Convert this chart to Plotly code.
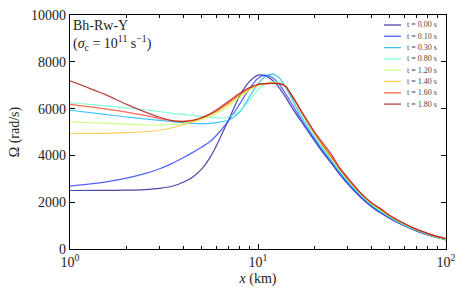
import plotly.graph_objects as go

X = [1, 1.5, 2, 2.5, 3, 3.5, 4, 4.5, 5, 5.5, 6, 7, 8, 9, 10, 11, 12, 13, 14, 15, 16, 17, 18,
     20, 22, 25, 27, 30, 35, 40, 45, 50, 60, 70, 80, 90, 100]

T000 = [2500, 2505, 2515, 2540, 2590, 2680, 2850, 3080, 3400, 3850, 4400, 5550, 6550, 7150, 7430, 7400, 7200, 6880, 6500, 6100, 5750, 5450, 5150,
        4620, 4150, 3580, 3220, 2780, 2220, 1820, 1540, 1320, 990, 760, 600, 480, 390]
T010 = [2690, 2850, 3030, 3220, 3430, 3660, 3900, 4130, 4350, 4560, 4850, 5500, 6200, 6850, 7300, 7430, 7320, 7030, 6650, 6250, 5870, 5530, 5220,
        4680, 4200, 3630, 3270, 2820, 2260, 1850, 1570, 1340, 1010, 775, 610, 490, 400]
T030 = [5930, 5760, 5640, 5560, 5500, 5440, 5400, 5370, 5360, 5370, 5400, 5500, 5850, 6500, 7050, 7380, 7470, 7300, 6920, 6480, 6050, 5660, 5330,
        4760, 4280, 3700, 3320, 2870, 2300, 1880, 1590, 1360, 1020, 790, 620, 500, 410]
T080 = [6250, 6130, 6030, 5950, 5870, 5800, 5750, 5710, 5670, 5630, 5600, 5640, 5900, 6350, 6800, 7050, 7140, 7120, 6970, 6620, 6220, 5820, 5460,
        4860, 4350, 3760, 3380, 2920, 2340, 1910, 1620, 1380, 1030, 795, 625, 500, 395]
T120 = [5430, 5380, 5340, 5310, 5300, 5320, 5370, 5440, 5530, 5640, 5780, 6120, 6480, 6780, 6980, 7080, 7110, 7090, 6950, 6600, 6220, 5840, 5500,
        4910, 4410, 3800, 3420, 2960, 2370, 1940, 1650, 1400, 1060, 815, 645, 515, 420]
T140 = [4935, 4945, 4970, 5010, 5075, 5180, 5310, 5440, 5570, 5710, 5860, 6210, 6560, 6830, 7000, 7080, 7100, 7080, 6950, 6610, 6240, 5870, 5530,
        4940, 4440, 3830, 3450, 2990, 2390, 1960, 1670, 1420, 1070, 825, 655, 525, 430]
T160 = [6180, 6000, 5850, 5710, 5570, 5490, 5470, 5510, 5610, 5740, 5900, 6260, 6610, 6870, 7020, 7070, 7080, 7070, 6950, 6600, 6230, 5870, 5540,
        4960, 4460, 3850, 3470, 3000, 2400, 1970, 1690, 1430, 1080, 830, 660, 530, 440]
T180 = [7190, 6640, 6180, 5860, 5630, 5480, 5440, 5490, 5610, 5760, 5940, 6320, 6660, 6900, 7040, 7070, 7080, 7070, 6960, 6620, 6260, 5900, 5580,
        5000, 4560, 3950, 3500, 3050, 2420, 1990, 1720, 1440, 1090, 840, 670, 540, 450]

SERIES = [T000, T010, T030, T080, T120, T140, T160, T180]
LABELS = ["t = 0.00 s", "t = 0.10 s", "t = 0.30 s", "t = 0.80 s",
          "t = 1.20 s", "t = 1.40 s", "t = 1.60 s", "t = 1.80 s"]
COLORS = ["rgba(40,40,150,0.85)", "rgba(40,60,255,0.8)", "rgba(0,175,255,0.75)",
          "rgba(90,255,205,0.75)", "rgba(195,255,90,0.75)", "rgba(255,195,40,0.8)",
          "rgba(255,70,40,0.8)", "rgba(165,25,25,0.8)"]

XTICKS = [1, 10, 100]
XTICKTEXT = ["10<sup>0</sup>", "10<sup>1</sup>", "10<sup>2</sup>"]
XMINOR = [2, 3, 4, 5, 6, 7, 8, 9, 20, 30, 40, 50, 60, 70, 80, 90]

FONT = "Liberation Serif, serif"
TXT = "#222"

fig = go.Figure()
for vals, lab, col in zip(SERIES, LABELS, COLORS):
    fig.add_trace(go.Scatter(x=X, y=vals, mode="lines", name=lab,
                             line=dict(color=col, width=1.2, shape="spline", smoothing=0.8),
                             showlegend=False))

# compact legend, placed in the upper-right corner of the plot area
L, R, TOP, BOT = 70, 446, 15, 249
W, H = R - L, BOT - TOP
shapes = []
annotations = []
for i, (lab, col) in enumerate(zip(LABELS, COLORS)):
    py = 25 + 11.3 * i
    yp = (BOT - py) / H
    shapes.append(dict(type="line", xref="paper", yref="paper",
                       x0=(384 - L) / W, x1=(401 - L) / W, y0=yp, y1=yp,
                       line=dict(color=col, width=1.3)))
    annotations.append(dict(xref="paper", yref="paper", x=(405 - L) / W, y=yp,
                            xanchor="left", yanchor="middle", showarrow=False,
                            text=lab, font=dict(family=FONT, size=8, color="#444")))

annotations.append(dict(xref="paper", yref="paper", x=(71 - L) / W, y=1 - 1 / H,
                        xanchor="left", yanchor="top", align="left", showarrow=False,
                        text="Bh-Rw-Y<br>(<i>σ</i><sub>c</sub> = 10<sup>11</sup> s<sup>−1</sup>)",
                        font=dict(family=FONT, size=14, color=TXT)))

fig.update_layout(
    width=469, height=293,
    margin=dict(l=L, r=469 - R, t=TOP, b=293 - BOT, autoexpand=False),
    paper_bgcolor="white", plot_bgcolor="white",
    font=dict(family=FONT, size=14, color=TXT),
    shapes=shapes, annotations=annotations,
)
fig.update_xaxes(type="log", range=[0, 2], tickvals=XTICKS, ticktext=XTICKTEXT,
                 ticks="inside", ticklen=5, tickwidth=1, tickcolor="black",
                 tickfont=dict(family=FONT, size=14, color=TXT),
                 ticklabeloverflow="allow", automargin=False,
                 showline=True, linecolor="black", linewidth=1.3, mirror="allticks",
                 showgrid=False, zeroline=False,
                 minor=dict(tickvals=XMINOR, ticks="inside", ticklen=3, tickwidth=1,
                            tickcolor="black", showgrid=False),
                 title=dict(text="<i>x</i> (km)", standoff=4,
                            font=dict(family=FONT, size=14, color=TXT)))
fig.update_yaxes(range=[0, 10000], dtick=2000, tickformat="d",
                 ticks="inside", ticklen=5, tickwidth=1, tickcolor="black",
                 tickfont=dict(family=FONT, size=14, color=TXT),
                 automargin=False,
                 showline=True, linecolor="black", linewidth=1.3, mirror="allticks",
                 showgrid=False, zeroline=False,
                 title=dict(text="Ω (rad/s)", standoff=8,
                            font=dict(family=FONT, size=14, color=TXT)))

fig.write_html("out.html", config={"displayModeBar": False},
               post_script="document.body.style.margin='0px';document.body.style.overflow='hidden';")
